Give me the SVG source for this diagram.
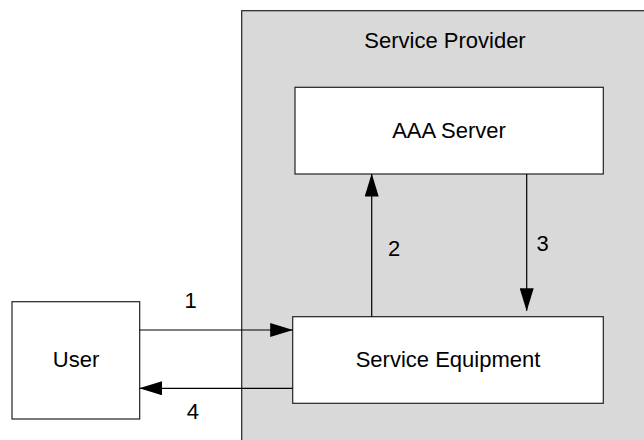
<svg xmlns="http://www.w3.org/2000/svg" width="644" height="440" viewBox="0 0 644 440">
<style>
text{font-family:"Liberation Sans",Arial,sans-serif;font-size:22px;fill:#000;text-anchor:middle}
.box{fill:#fff;stroke:#222;stroke-width:1.2}
.cont{fill:#d9d9d9;stroke:#222;stroke-width:1.2}
.conn{stroke:#000;stroke-width:1.2;fill:none;marker-end:url(#ah)}
</style>
<defs>
<marker id="ah" markerUnits="userSpaceOnUse" markerWidth="23" markerHeight="14" refX="22.5" refY="7" orient="auto" viewBox="0 0 23 14">
<path d="M0,0 L23,7 L0,14 z" fill="#000"/>
</marker>
</defs>
<g id="service-provider">
<rect class="cont" x="241.7" y="10.7" width="420" height="440"/>
<text x="445" y="48.3">Service Provider</text>
</g>
<g id="aaa-server">
<rect class="box" x="295" y="87.3" width="308.3" height="86.7"/>
<text x="449" y="137.7">AAA Server</text>
</g>
<g id="service-equipment">
<rect class="box" x="292.7" y="316.7" width="310.6" height="86.6"/>
<text x="448" y="366.7">Service Equipment</text>
</g>
<g id="user">
<rect class="box" x="12" y="301.7" width="127.7" height="117.3"/>
<text x="76" y="367.3">User</text>
</g>
<g id="connectors">
<line class="conn" x1="139.7" y1="330" x2="292.7" y2="330"/>
<line class="conn" x1="292.7" y1="388.3" x2="139.7" y2="388.3"/>
<line class="conn" x1="371.7" y1="316.7" x2="371.7" y2="174"/>
<line class="conn" x1="526.7" y1="174" x2="526.7" y2="310.7"/>
<text x="190.5" y="308.3">1</text>
<text x="394" y="255.7">2</text>
<text x="542.5" y="250.7">3</text>
<text x="192.8" y="419.3">4</text>
</g>
</svg>
